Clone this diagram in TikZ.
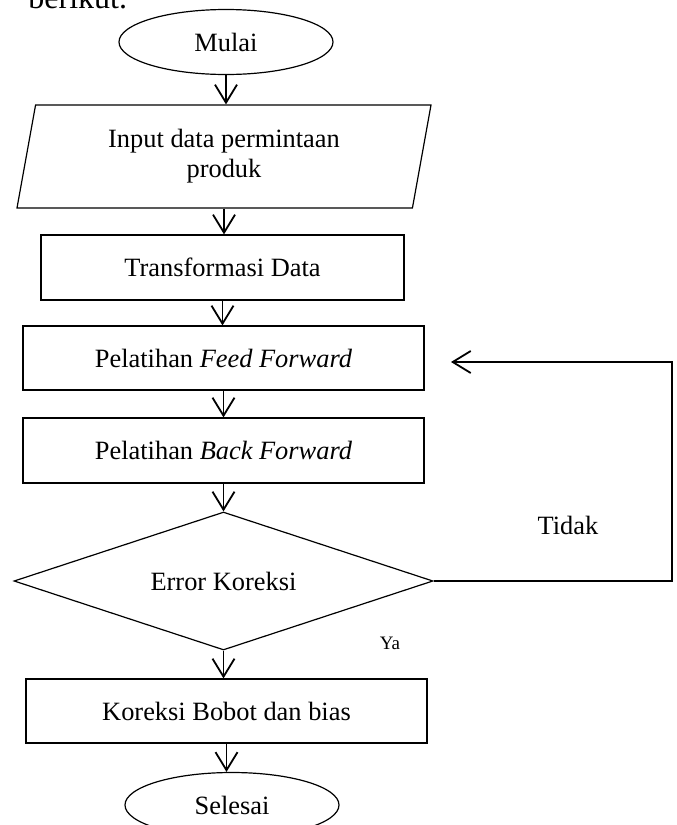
\documentclass[tikz,border=0pt]{standalone}
\usepackage{fontspec}
\setmainfont{Liberation Serif}
\usetikzlibrary{shapes.geometric,arrows.meta}

\tikzset{
  txt/.style={font=\fontsize{13.2}{15}\selectfont},
  box/.style={txt, draw, line width=0.6pt, minimum width=200.5pt, minimum height=32pt, inner sep=0pt},
  term/.style={txt, draw, ellipse, line width=0.6pt, minimum width=107pt, minimum height=32.5pt, inner sep=0pt},
  flow/.style={line width=0.9pt, -{Straight Barb[length=9pt,width=11pt,line width=0.9pt]}},
}

\begin{document}
\begin{tikzpicture}[x=0.5pt, y=-0.5pt]
        \useasboundingbox (0,0) rectangle (676,825);

        % Tail of the text above.
        \node[anchor=base west, inner sep=0pt, font=\fontsize{16}{19}\selectfont] (intro) at (28,8) {berikut.};

        % Steps.
        \node[term] (mulai) at (226,42) {Mulai};
        \node[txt, draw, trapezium, trapezium left angle=71, trapezium right angle=109,
              trapezium stretches body, line width=0.6pt, minimum width=207pt, minimum height=51.5pt,
              inner sep=0pt, align=center] (input) at (224,156.5) {Input data permintaan\\produk};
        \node[box, minimum width=181.5pt, minimum height=32.5pt] (trans) at (222.5,267.5) {Transformasi Data};
        \node[box] (ff) at (223.5,358) {Pelatihan \textit{Feed Forward}};
        \node[box, minimum height=32.5pt] (bf) at (223.5,450.5) {Pelatihan \textit{Back Forward}};
        \node[txt, draw, diamond, aspect=3, line width=0.6pt, minimum width=209.5pt,
              minimum height=69pt, inner sep=0pt] (dec) at (223.5,581) {Error Koreksi};
        \node[box] (kor) at (226.5,711) {Koreksi Bobot dan bias};
        \node[term] (sel) at (232,805) {Selesai};

        % Arrows down.
        \foreach \a/\b in {mulai/input, input/trans, trans/ff, ff/bf, bf/dec, dec/kor, kor/sel}
            \draw[flow] (\a.south) -- (\a.south |- \b.north);

        % Loop back.
        \coordinate (loop) at (672,362);
        \coordinate (ffin) at (451,362);
        \draw[flow] (dec.east) -| (loop) -- (ffin);
        \node[txt] (tidak) at (568,525) {Tidak};
        \node[font=\fontsize{9.5}{11}\selectfont] (ya) at (390,643) {Ya};
\end{tikzpicture}
\end{document}
